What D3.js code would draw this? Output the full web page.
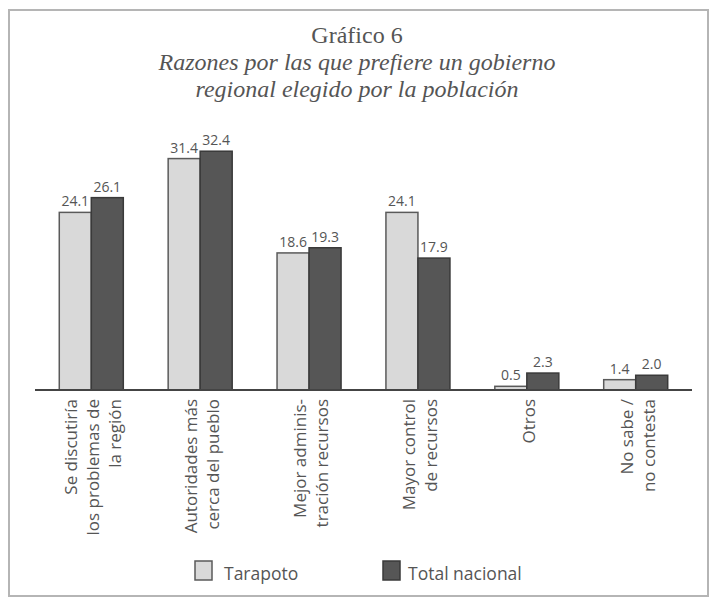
<!DOCTYPE html>
<html><head><meta charset="utf-8">
<script src="https://cdn.jsdelivr.net/npm/d3@7"></script>
<style>body{margin:0;background:#fff}</style>
</head><body><svg id="chart" width="710" height="598"></svg>
<script>
// Reasons for preferring an elected regional government (%)
const categories = [
  ["Se discutiría", "los problemas de", "la región"],
  ["Autoridades más", "cerca del pueblo"],
  ["Mejor adminis-", "tración recursos"],
  ["Mayor control", "de recursos"],
  ["Otros"],
  ["No sabe /", "no contesta"]
];
const seriesNames = ["Tarapoto", "Total nacional"];
const tarapoto = [24.1, 31.4, 18.6, 24.1, 0.5, 1.4];
const totalNacional = [26.1, 32.4, 19.3, 17.9, 2.3, 2.0];
const titleText = "Gráfico 6";
const subtitleLines = ["Razones por las que prefiere un gobierno", "regional elegido por la población"];

const fills = ["#d9d9d9", "#565656"];
const strokes = ["#5a5a5a", "#3a3a3a"];
const textColor = "#555";

const svg = d3.select("#chart");
const baseY = 390, axisL = 35, axisR = 692;

// frame
svg.append("rect").attr("x", 9).attr("y", 10).attr("width", 699).attr("height", 586)
  .attr("fill", "none").attr("stroke", "#b5b5b5").attr("stroke-width", 2);

// titles
svg.append("text").attr("x", 357).attr("y", 43).attr("text-anchor", "middle")
  .attr("font-family", "Liberation Serif, serif").attr("font-size", 24).attr("fill", textColor)
  .text(titleText);
svg.selectAll("text.sub").data(subtitleLines).join("text").attr("class", "sub")
  .attr("x", 357).attr("y", (d, i) => 70 + i * 27).attr("text-anchor", "middle")
  .attr("font-family", "Liberation Serif, serif").attr("font-style", "italic")
  .attr("font-size", 24).attr("fill", textColor).text(d => d);

const idx = d3.range(categories.length);
const x = d3.scaleBand().domain(idx).range([axisL, axisR]).paddingInner(0.412).paddingOuter(0.223);
const xs = d3.scaleBand().domain(seriesNames).range([0, x.bandwidth()]);
const y = d3.scaleLinear().domain([0, 35]).range([baseY, baseY - 35 * 7.37]);

const rows = idx.map(i => ({ i, vals: [tarapoto[i], totalNacional[i]] }));

const g = svg.selectAll("g.grp").data(rows).join("g").attr("class", "grp")
  .attr("transform", d => `translate(${x(d.i)},0)`);

g.selectAll("rect").data(d => d.vals.map((v, k) => ({ v, k }))).join("rect")
  .attr("x", d => xs(seriesNames[d.k]))
  .attr("y", d => y(d.v))
  .attr("width", xs.bandwidth())
  .attr("height", d => baseY - y(d.v))
  .attr("fill", d => fills[d.k]).attr("stroke", d => strokes[d.k]).attr("stroke-width", 1.5);

g.selectAll("text.val").data(d => d.vals.map((v, k) => ({ v, k }))).join("text").attr("class", "val")
  .attr("x", d => xs(seriesNames[d.k]) + xs.bandwidth() / 2)
  .attr("y", d => y(d.v) - 6)
  .attr("text-anchor", "middle")
  .attr("font-family", "Open Sans, sans-serif").attr("font-size", 14).attr("fill", textColor)
  .text(d => d.v.toFixed(1));

// baseline
svg.append("line").attr("x1", axisL).attr("x2", axisR).attr("y1", baseY).attr("y2", baseY)
  .attr("stroke", "#444").attr("stroke-width", 2);

// rotated category labels
const lineGap = 22;
idx.forEach(i => {
  const lines = categories[i];
  const cx = x(i) + x.bandwidth() / 2 + 2;
  const t = svg.append("text")
    .attr("transform", `translate(${cx},${baseY + 9}) rotate(-90)`)
    .attr("text-anchor", "end")
    .attr("font-family", "Open Sans, sans-serif").attr("font-size", 17).attr("fill", textColor);
  lines.forEach((s, j) => {
    t.append("tspan").attr("x", 0)
      .attr("y", (j - (lines.length - 1) / 2) * lineGap + 6)
      .text(s);
  });
});

// legend
const legend = svg.append("g");
const legendItems = [
  { name: seriesNames[0], sx: 195, tx: 224 },
  { name: seriesNames[1], sx: 383, tx: 408 }
];
legendItems.forEach((d, k) => {
  legend.append("rect").attr("x", d.sx).attr("y", 561).attr("width", 17).attr("height", 19)
    .attr("fill", fills[k]).attr("stroke", strokes[k]).attr("stroke-width", 1.5);
  legend.append("text").attr("x", d.tx).attr("y", 580)
    .attr("font-family", "Open Sans, sans-serif").attr("font-size", 17.5).attr("fill", textColor)
    .text(d.name);
});
</script></body></html>
